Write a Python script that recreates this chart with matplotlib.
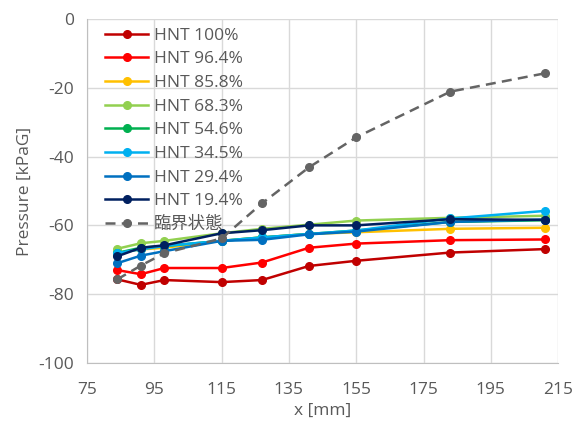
import matplotlib
matplotlib.use("Agg")
import matplotlib.pyplot as plt

plt.rcParams['font.family'] = ['Open Sans', 'Noto Sans CJK JP', 'DejaVu Sans']
plt.rcParams['axes.unicode_minus'] = False

# data
x_mm = [84, 91, 98, 115, 127, 141, 155, 183, 211]

hnt_100 = [-75.7, -77.3, -75.9, -76.5, -75.9, -71.8, -70.3, -67.9, -66.9]
hnt_964 = [-73.0, -74.2, -72.4, -72.4, -70.8, -66.5, -65.3, -64.3, -64.1]
hnt_858 = [-68.0, -67.0, -66.5, -64.5, -63.5, -62.5, -62.0, -61.0, -60.7]
hnt_683 = [-66.8, -65.2, -64.5, -62.3, -61.0, -59.8, -58.6, -57.8, -57.2]
hnt_546 = [-68.0, -66.5, -66.0, -64.5, -63.5, -62.5, -61.5, -59.0, -58.5]
hnt_345 = [-68.0, -67.0, -66.0, -64.5, -63.5, -62.5, -61.5, -58.0, -55.8]
hnt_294 = [-71.0, -68.8, -67.5, -64.5, -64.2, -62.6, -61.8, -59.0, -58.3]
hnt_194 = [-69.0, -66.5, -65.8, -62.3, -61.4, -60.0, -60.0, -58.2, -58.4]
critical = [-75.7, -71.7, -68.1, -63.8, -53.6, -43.1, -34.4, -21.1, -15.8]

series = [
    ("HNT 100%", hnt_100, "#C00000"),
    ("HNT 96.4%", hnt_964, "#FF0000"),
    ("HNT 85.8%", hnt_858, "#FFC000"),
    ("HNT 68.3%", hnt_683, "#92D050"),
    ("HNT 54.6%", hnt_546, "#00B050"),
    ("HNT 34.5%", hnt_345, "#00B0F0"),
    ("HNT 29.4%", hnt_294, "#0070C0"),
    ("HNT 19.4%", hnt_194, "#002060"),
]

x_ticks = [75, 95, 115, 135, 155, 175, 195, 215]
y_ticks = [0, -20, -40, -60, -80, -100]

fig = plt.figure(figsize=(5.76, 4.23), dpi=100)
ax = fig.add_axes([0.151, 0.142, 0.818, 0.813])

for label, vals, col in series:
    ax.plot(x_mm, vals, color=col, lw=1.8, marker='o', ms=5.5, label=label)
ax.plot(x_mm, critical, color='#646464', lw=1.8, ls=(0, (4, 2.5)), marker='o', ms=5.5,
        label='臨界状態')

ax.set_xlim(75, 215)
ax.set_ylim(-100, 0)
ax.set_xticks(x_ticks)
ax.set_yticks(y_ticks)
ax.grid(True, color='#D9D9D9', lw=1)
ax.set_axisbelow(True)
for s in ['top', 'right']:
    ax.spines[s].set_visible(False)
for s in ['left', 'bottom']:
    ax.spines[s].set_color('#BFBFBF')
ax.tick_params(length=0, colors='#595959', labelsize=12.5)
ax.tick_params(axis='x', pad=14)
ax.tick_params(axis='y', pad=9)

ax.set_xlabel('x [mm]', color='#595959', fontsize=12.5, labelpad=3)
ax.set_ylabel('Pressure [kPaG]', color='#595959', fontsize=12.5, labelpad=4)

leg = ax.legend(loc='upper left', bbox_to_anchor=(0.02, 1.0), frameon=False,
                fontsize=12.5, handlelength=2.5, handletextpad=0.3, labelspacing=0.43,
                borderaxespad=0.1)
for t in leg.get_texts():
    t.set_color('#595959')

fig.savefig('out.png', dpi=100)
